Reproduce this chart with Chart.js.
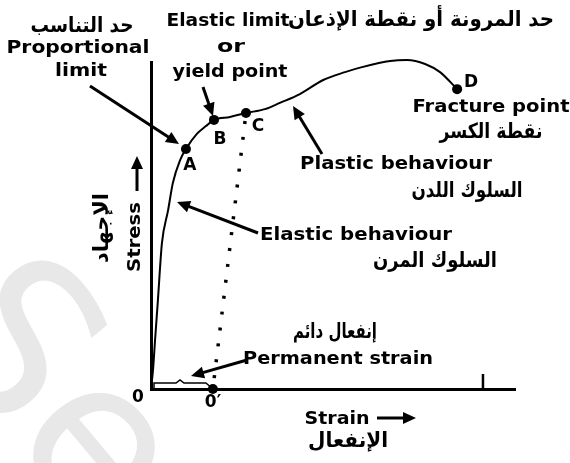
<!DOCTYPE html>
<html>
<head>
<meta charset="utf-8">
<script src="https://cdn.jsdelivr.net/npm/chart.js"></script>
<style>
  html, body { margin: 0; padding: 0; background: #fff; }
  #wrap { width: 570px; height: 463px; }
</style>
</head>
<body>
<div id="wrap"><canvas id="myChart" width="570" height="463"></canvas></div>
<script>
// loading curve, O through A, B, C up to fracture at D (arbitrary units)
const strain = [0, 0.55, 1.1, 1.9, 3.0, 4.7, 6.0, 8.0, 9.6, 12.6, 15.1, 17.3, 21.7, 26.1, 31.3, 35.4, 40.9, 47.3, 53.3, 58.2, 65.7, 70.3, 75.3, 79.4, 84.1];
const stress = [0, 5.8, 14.7, 27.2, 44.6, 54.7, 63.0, 70.0, 73.4, 78.0, 80.4, 82.3, 83.2, 84.4, 85.6, 87.5, 90.2, 94.5, 96.9, 98.5, 100.3, 100.6, 99.4, 96.9, 91.7];

// marked points
const pointNames = ['A', 'B', 'C', 'D'];
const pointStrain = [9.6, 17.3, 26.1, 84.1];
const pointStress = [73.4, 82.3, 84.4, 91.7];

// unloading from C leaves a permanent set at O'
const unloadStrain = [26.1, 17.0];
const unloadStress = [84.4, 0];
const permanentSet = 17.0;
const strainTick = 91.2;

const ENG = 'bold 17px "DejaVu Sans"';
const ARB = 'bold 21px "DejaVu Sans"';

// text, x, y, width, font, rotation
const labels = [
  ['حد التناسب', 82, 27, 103, ARB],
  ['Proportional', 78, 49, 143, ENG],
  ['limit', 81, 72, 52, ENG],
  ['Elastic limit', 228, 22, 123, ENG],
  ['or', 231, 48, 28, ENG],
  ['yield point', 230, 73, 115, ENG],
  ['حد المرونة أو نقطة الإذعان', 421, 21, 266, ARB],
  ['Fracture point', 491, 108, 157, ENG],
  ['نقطة الكسر', 491, 133, 103, ARB],
  ['Plastic behaviour', 396, 165, 192, ENG],
  ['السلوك اللدن', 467, 192, 111, ARB],
  ['Elastic behaviour', 356, 236, 192, ENG],
  ['السلوك المرن', 435, 262, 124, ARB],
  ['إنفعال دائم', 335, 333, 84, ARB],
  ['Permanent strain', 338, 360, 190, ENG],
  ['Strain', 337, 420, 65, ENG],
  ['الإنفعال', 348, 442, 80, ARB],
  ['Stress', 136, 237, 70, ENG, -Math.PI / 2],
  ['الإجهاد', 103, 228, 70, ARB, -Math.PI / 2],
  ['0', 138, 398, 0, ENG],
  ['0\u2032', 213, 403, 0, ENG]
];

// x1, y1 -> x2, y2 (head at the second point)
const arrows = [
  [90, 86, 179, 144],
  [203, 87, 213, 116],
  [322, 154, 293, 106],
  [258, 233, 177, 202],
  [247, 360, 191, 376],
  [137, 191, 137, 156],
  [377, 418, 416, 418]
];

// offsets of the letters A-D from their points
const nameOffset = [[4, 17], [6, 20], [12, 14], [14, -7]];

function put(ctx, t, x, y, w, font, rot) {
  ctx.save();
  ctx.font = font;
  ctx.translate(x, y);
  if (rot) ctx.rotate(rot);
  const m = ctx.measureText(t).width;
  if (w) ctx.scale(w / m, 1);
  ctx.textAlign = 'center';
  ctx.textBaseline = 'middle';
  ctx.fillText(t, 0, 0);
  ctx.restore();
}

function arrow(ctx, x1, y1, x2, y2) {
  const a = Math.atan2(y2 - y1, x2 - x1);
  const h = 13, w = 6;
  const c = Math.cos(a), s = Math.sin(a);
  ctx.lineWidth = 3;
  ctx.beginPath();
  ctx.moveTo(x1, y1);
  ctx.lineTo(x2 - h * 0.8 * c, y2 - h * 0.8 * s);
  ctx.stroke();
  ctx.beginPath();
  ctx.moveTo(x2, y2);
  ctx.lineTo(x2 - h * c + w * s, y2 - h * s - w * c);
  ctx.lineTo(x2 - h * c - w * s, y2 - h * s + w * c);
  ctx.closePath();
  ctx.fill();
}

const watermark = {
  id: 'watermark',
  beforeDraw(chart) {
    const ctx = chart.ctx;
    ctx.save();
    ctx.fillStyle = '#e8e8e8';
    ctx.font = '215px "DejaVu Sans"';
    ctx.translate(-40, 298);
    ctx.rotate(50 * Math.PI / 180);
    ctx.textBaseline = 'middle';
    ctx.fillText('See', 0, 0);
    ctx.restore();
  }
};

const notes = {
  id: 'notes',
  afterDatasetsDraw(chart) {
    const ctx = chart.ctx;
    const xs = chart.scales.x, ys = chart.scales.y;
    ctx.save();
    ctx.fillStyle = '#000';
    ctx.strokeStyle = '#000';
    ctx.lineCap = 'butt';

    // bracket showing the permanent set O-O'
    const o = xs.getPixelForValue(0);
    const o2 = xs.getPixelForValue(permanentSet);
    const yb = ys.getPixelForValue(0);
    ctx.lineWidth = 1.5;
    ctx.beginPath();
    ctx.moveTo(o + 3, yb - 1);
    ctx.lineTo(o + 3, yb - 6);
    ctx.lineTo(o + 25, yb - 6);
    ctx.lineTo(o + 29, yb - 9);
    ctx.lineTo(o + 33, yb - 6);
    ctx.lineTo(o2 - 7, yb - 6);
    ctx.lineTo(o2 - 1, yb - 1);
    ctx.stroke();

    // small tick on the strain axis
    const tx = xs.getPixelForValue(strainTick);
    ctx.lineWidth = 2.5;
    ctx.beginPath();
    ctx.moveTo(tx, yb);
    ctx.lineTo(tx, yb - 15);
    ctx.stroke();

    arrows.forEach(a => arrow(ctx, a[0], a[1], a[2], a[3]));

    pointNames.forEach((n, i) => {
      const px = xs.getPixelForValue(pointStrain[i]) + nameOffset[i][0];
      const py = ys.getPixelForValue(pointStress[i]) + nameOffset[i][1];
      put(ctx, n, px, py, 0, ENG);
    });

    labels.forEach(l => put(ctx, l[0], l[1], l[2], l[3], l[4], l[5]));
    ctx.restore();
  }
};

const ctx = document.getElementById('myChart');

new Chart(ctx, {
  type: 'scatter',
  data: {
    datasets: [
      {
        data: strain.map((x, i) => ({ x, y: stress[i] })),
        showLine: true,
        borderColor: '#000',
        borderWidth: 2,
        pointRadius: 0,
        cubicInterpolationMode: 'monotone',
        clip: false
      },
      {
        data: unloadStrain.map((x, i) => ({ x, y: unloadStress[i] })),
        showLine: true,
        borderColor: '#000',
        borderWidth: 3.5,
        borderDash: [3, 13],
        borderDashOffset: -8,
        pointRadius: 0,
        clip: false
      },
      {
        data: pointStrain.map((x, i) => ({ x, y: pointStress[i] })),
        pointRadius: 5,
        backgroundColor: '#000',
        borderWidth: 0,
        clip: false
      },
      {
        data: [{ x: permanentSet, y: 0 }],
        pointRadius: 5,
        backgroundColor: '#000',
        borderWidth: 0,
        clip: false
      }
    ]
  },
  options: {
    responsive: false,
    animation: false,
    layout: { padding: { left: 151, right: 55, top: 62, bottom: 74 } },
    scales: {
      x: {
        type: 'linear', min: 0, max: 100,
        grid: { display: false },
        ticks: { display: false },
        border: { color: '#000', width: 3 },
        afterFit: s => { s.height = 0; }
      },
      y: {
        type: 'linear', min: 0, max: 100,
        grid: { display: false },
        ticks: { display: false },
        border: { color: '#000', width: 3 },
        afterFit: s => { s.width = 0; }
      }
    },
    plugins: {
      legend: { display: false },
      tooltip: { enabled: false }
    }
  },
  plugins: [watermark, notes]
});
</script>
</body>
</html>
